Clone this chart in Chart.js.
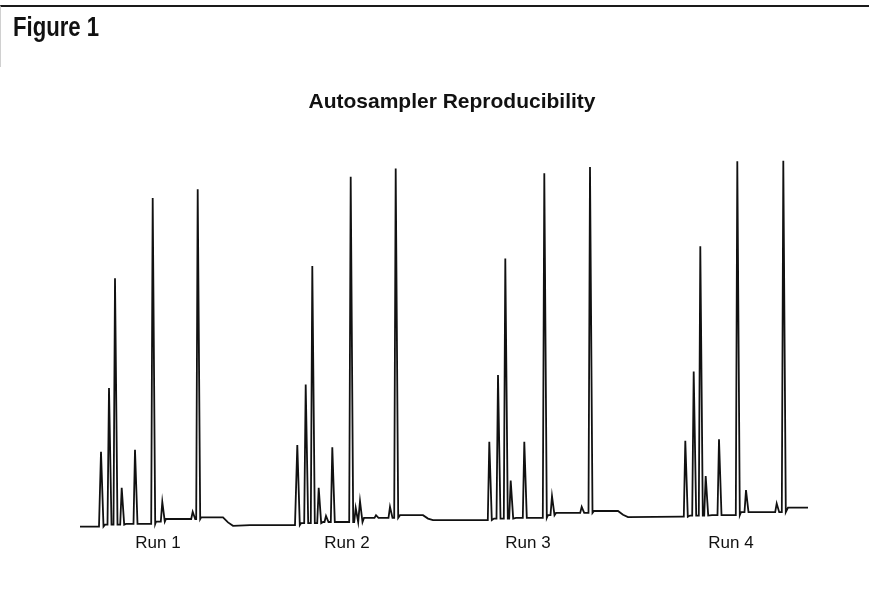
<!DOCTYPE html>
<html>
<head>
<meta charset="utf-8">
<title>Autosampler Reproducibility</title>
<script src="https://cdn.jsdelivr.net/npm/chart.js@4.4.1/dist/chart.umd.min.js"></script>
<style>
    body { margin: 0; background: #fff; }
    #frame { position: absolute; left: 0; top: 5px; width: 869px; height: 62px; border-top: 2px solid #1a1a1a; border-left: 1px solid #d0d0d0; box-sizing: border-box; }
    #fig { position: absolute; left: 13px; top: 12px; font: bold 27px "Liberation Sans", sans-serif; color: #111; transform: scaleX(0.82); transform-origin: left top; }
    canvas { display: block; }
</style>
</head>
<body>
<div id="frame"></div>
<div id="fig">Figure 1</div>
<canvas id="myChart" width="869" height="606"></canvas>
<script>
const run1Times = [2.1, 2.9, 3.5, 4.17, 5.5, 7.27, 8.23, 11.27, 11.77];
const run1Heights = [20.6, 37.4, 66.3, 11.1, 21.1, 87.4, 7.4, 4.8, 89.7];

const run2Times = [21.73, 22.57, 23.23, 23.87, 24.6, 25.23, 27.07, 27.57, 28.0, 29.6, 31.0, 31.57];
const run2Heights = [22.4, 38.3, 69.5, 11.1, 3.7, 21.8, 93.0, 5.8, 7.6, 3.9, 6.1, 95.2];

const run3Times = [40.93, 41.8, 42.53, 43.07, 44.43, 46.43, 47.2, 50.17, 51.0];
const run3Heights = [23.2, 40.8, 71.5, 13.0, 23.2, 93.9, 8.9, 6.1, 95.6];

const run4Times = [60.53, 61.37, 62.03, 62.57, 63.9, 65.73, 66.6, 69.67, 70.33];
const run4Heights = [23.5, 41.7, 74.7, 14.2, 23.9, 97.1, 10.5, 7.0, 97.2];

// Baseline drift of the whole trace (min, response)
const baselineX = [0, 1.9, 2.5, 4.6, 7.6, 8.6, 12.1, 14.3, 14.8, 15.3, 17.0,
    21.5, 22.1, 24.3, 28.4, 32.0, 34.3, 34.8, 35.3,
    40.6, 41.4, 43.6, 46.8, 47.6, 51.4, 53.8, 54.3, 54.8,
    60.2, 61.0, 63.2, 66.1, 70.8, 72.8];
const baselineY = [0.9, 0.9, 1.4, 1.6, 2.2, 2.9, 3.3, 3.3, 2.0, 1.1, 1.3,
    1.3, 1.8, 2.1, 3.2, 3.9, 3.9, 3.0, 2.6,
    2.6, 3.0, 3.2, 3.9, 4.5, 5.0, 5.0, 4.0, 3.4,
    3.5, 3.8, 3.9, 4.7, 5.9, 5.9];

const runLabels = ['Run 1', 'Run 2', 'Run 3', 'Run 4'];
const runLabelX = [7.8, 26.7, 44.8, 65.1];

// baseline level at a given time (last baseline point before it)
function baseAt(x) {
    let level = baselineY[0];
    for (let i = 0; i < baselineX.length; i++) {
        if (baselineX[i] <= x) level = baselineY[i];
    }
    return level;
}

// Build one continuous trace: baseline points plus a narrow spike per peak
const trace = baselineX.map((x, i) => ({ x: x, y: baselineY[i] }));
[[run1Times, run1Heights], [run2Times, run2Heights], [run3Times, run3Heights], [run4Times, run4Heights]]
    .forEach(([times, heights]) => {
        times.forEach((t, i) => {
            trace.push({ x: t - 0.15, y: baseAt(t - 0.15) });
            trace.push({ x: t, y: heights[i] });
            trace.push({ x: t + 0.25, y: baseAt(t + 0.25) });
        });
    });
trace.sort((a, b) => a.x - b.x);

const ctx = document.getElementById('myChart').getContext('2d');

const chromChart = new Chart(ctx, {
    type: 'line',
    data: {
        datasets: [{
            label: 'Detector response',
            data: trace,
            borderColor: '#111',
            borderWidth: 1.8,
            pointRadius: 0,
            tension: 0,
            fill: false
        }]
    },
    options: {
        responsive: false,
        animation: false,
        layout: { padding: { left: 80, right: 45, top: 0, bottom: 0 } },
        plugins: {
            legend: { display: false },
            tooltip: { enabled: false },
            title: {
                display: true,
                text: 'Autosampler Reproducibility',
                color: '#111',
                font: { family: 'Liberation Sans', weight: 'bold', size: 21, lineHeight: 1.2 },
                padding: { top: 90, bottom: 35 }
            }
        },
        scales: {
            x: {
                type: 'linear',
                min: 0,
                max: 74.4,
                grid: { display: false, drawTicks: false },
                border: { display: false },
                afterBuildTicks: axis => { axis.ticks = runLabelX.map(v => ({ value: v })); },
                afterFit: axis => { axis.height = 76; },
                ticks: {
                    autoSkip: false,
                    maxRotation: 0,
                    padding: 3,
                    color: '#111',
                    font: { family: 'Liberation Sans', size: 17 },
                    callback: (v, i) => runLabels[i]
                }
            },
            y: { display: false, min: 0, max: 100 }
        }
    }
});
</script>
</body>
</html>
